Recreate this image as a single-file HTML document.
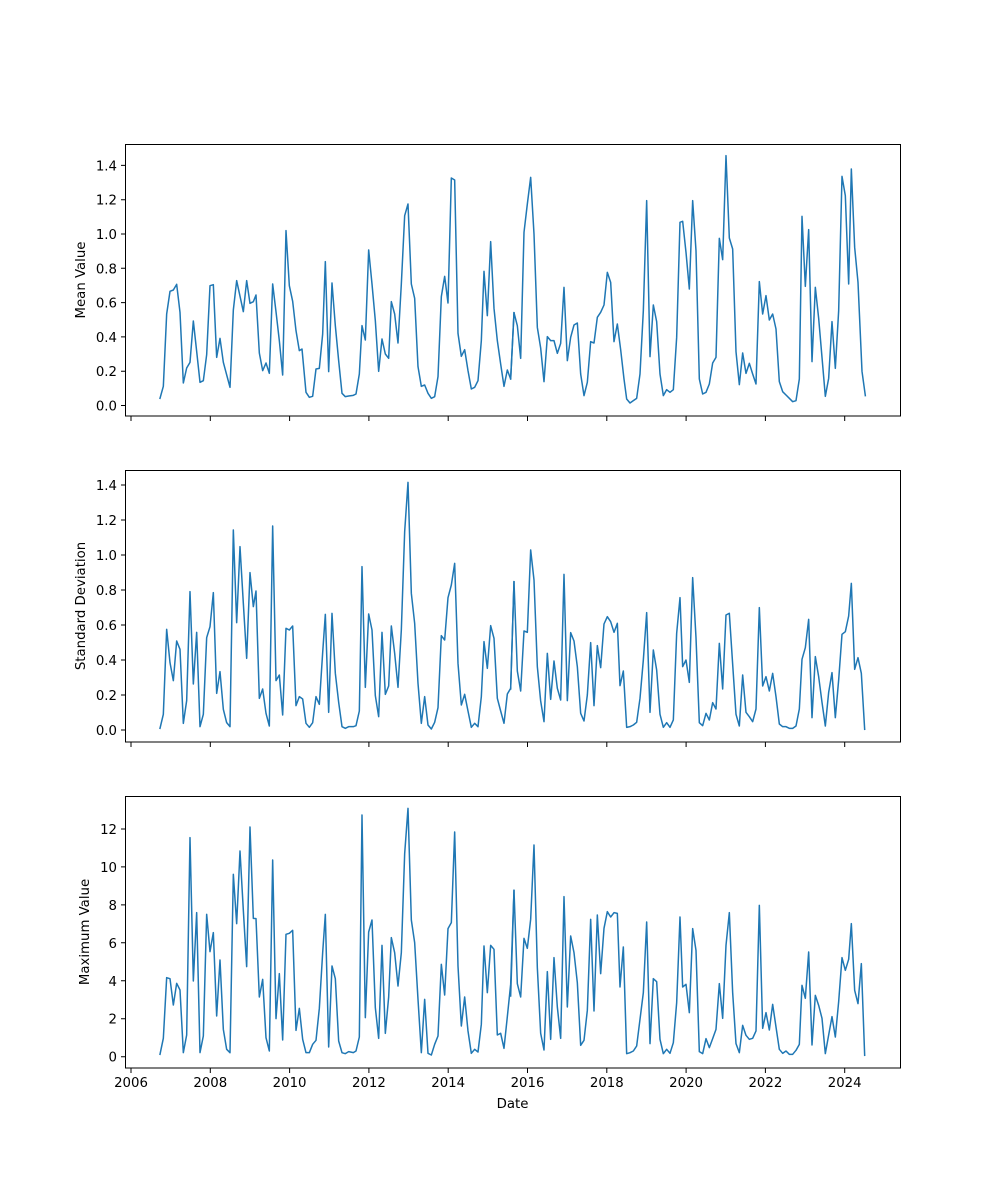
<!DOCTYPE html>
<html><head><meta charset="utf-8"><style>body{margin:0;background:#fff}svg{display:block}text{font-family:"DejaVu Sans","Liberation Sans",sans-serif;font-size:13.3px;fill:#000}</style></head><body>
<svg width="1000" height="1200" xmlns="http://www.w3.org/2000/svg">
<rect width="1000" height="1200" fill="#fff"/>
<g fill="none" stroke="#1f77b4" stroke-width="4.5" stroke-linejoin="round" stroke-linecap="square">
<g transform="translate(125,144) scale(0.33333)">
<polyline points="105,763 115,727 125,510 135,442 145,438 155,421 165,505 175,717 185,672 195,655 205,531 215,622 225,715 235,710 245,632 255,425 265,422 275,640 285,583 295,655 315,730 325,498 335,410 355,503 365,410 375,478 385,473 393,453 403,627 413,680 423,657 433,688 443,420 453,503 463,590 473,693 483,260 493,425 503,472 513,560 523,620 531,615 543,745 553,760 563,757 573,675 583,673 593,570 601,353 611,683 621,417 631,545 641,650 651,748 661,758 671,756 685,754 693,750 703,690 711,545 721,588 731,318 741,420 751,530 761,682 771,585 781,630 791,643 799,473 809,510 819,597 829,420 839,215 849,180 859,420 869,463 879,668 889,727 899,723 909,748 919,763 929,758 939,698 949,458 959,397 969,477 979,102 989,108 999,568 1009,637 1019,617 1029,680 1039,735 1049,730 1059,710 1069,590 1077,382 1087,515 1097,293 1107,493 1117,590 1127,660 1137,727 1147,678 1157,705 1167,506"/>
</g>
<g transform="translate(510,144) scale(0.33333)">
<polyline points="2,705 12,506 22,545 32,643 42,265 52,180 62,100 72,270 82,550 92,612 102,713 112,578 122,590 132,590 142,628 152,598 162,430 172,650 182,580 192,543 202,537 212,690 222,755 232,715 242,593 252,597 262,520 272,505 282,483 292,385 302,415 312,593 322,540 332,617 342,705 350,765 360,777 370,770 380,763 390,690 400,500 410,170 420,638 430,483 440,533 450,690 460,755 470,737 480,745 490,737 500,580 510,235 518,232 528,325 538,435 548,170 558,320 568,705 578,750 588,745 598,720 608,657 618,640 628,283 638,347 648,35 658,282 668,315 678,623 688,722 698,627 708,688 718,658 728,690 738,720 748,413 758,510 768,455 778,528 788,510 798,555 808,713 818,743 828,753 838,763 848,773 858,770 868,705 876,217 886,427 896,257 906,653 916,430 926,523 936,640 946,757 956,703 966,533 976,673 986,500 996,97 1006,155 1016,420 1024,75 1034,310 1044,415 1056,682 1066,755"/>
</g>
<g transform="translate(125,470) scale(0.33333)">
<polyline points="105,775 115,733 125,478 135,578 145,632 155,513 165,538 175,760 185,692 195,365 205,642 215,487 225,770 235,733 245,503 255,470 265,368 275,670 285,605 295,718 305,758 315,770 325,180 335,458 345,230 355,400 365,565 375,308 385,410 393,363 403,685 413,657 423,730 433,768 443,168 453,632 463,615 473,735 483,475 493,480 503,468 513,707 523,680 533,687 543,760 553,772 563,758 573,680 583,703 593,548 601,433 611,727 621,430 631,610 641,697 651,770 661,775 671,770 685,770 693,767 703,723 711,290 721,652 731,432 741,480 751,677 761,740 771,487 781,673 791,648 799,468 809,550 819,652 829,480 839,185 849,37 859,370 869,460 879,640 889,760 899,680 909,765 919,777 929,757 939,713 949,497 959,510 969,383 979,345 989,280 999,580 1009,705 1019,673 1029,723 1039,772 1049,760 1059,770 1069,680 1077,515 1087,595 1097,467 1107,505 1117,685 1127,723 1137,760 1147,672 1157,655 1167,335"/>
</g>
<g transform="translate(510,470) scale(0.33333)">
<polyline points="2,657 12,335 22,603 32,663 42,483 52,487 62,240 72,330 82,590 92,693 102,755 112,550 122,688 132,573 142,655 152,690 162,313 172,692 182,488 192,513 202,590 212,730 222,753 232,675 242,518 252,707 262,527 272,593 282,462 292,440 302,455 312,487 322,460 330,647 340,603 350,772 360,770 370,765 380,757 390,685 400,570 410,428 420,727 430,540 440,600 450,733 460,772 470,758 480,772 490,750 500,490 510,383 518,590 528,570 538,637 548,323 558,503 568,758 578,767 588,730 598,750 608,698 618,717 628,520 638,657 648,435 658,430 668,583 678,733 688,768 698,615 708,727 718,740 728,755 738,717 748,413 758,648 768,620 778,663 788,610 798,680 808,762 818,770 828,770 838,775 848,775 858,768 868,717 876,568 886,533 896,448 906,743 916,560 926,620 936,697 946,768 956,667 966,608 976,743 986,630 996,493 1006,485 1016,438 1024,340 1034,598 1044,563 1054,610 1064,778"/>
</g>
<g transform="translate(125,796) scale(0.33333)">
<polyline points="105,775 115,727 125,545 135,548 145,627 155,562 165,582 175,770 185,717 195,125 205,555 215,350 225,770 235,720 245,355 255,467 265,410 275,660 285,492 295,700 305,760 315,770 325,235 335,383 345,165 355,343 365,512 375,93 385,367 393,368 403,603 413,550 423,725 433,765 443,192 453,668 463,533 473,732 483,415 493,412 503,403 513,703 523,637 533,730 543,770 553,770 563,745 573,733 583,637 593,470 601,355 611,753 621,510 631,548 641,735 651,770 661,773 671,767 685,770 693,765 703,723 711,57 721,665 731,408 741,372 751,635 761,727 771,448 781,712 791,603 799,425 809,470 819,570 829,470 839,173 849,37 859,372 869,440 879,610 889,770 899,610 909,772 919,777 929,745 939,720 949,505 959,597 969,398 979,380 989,108 999,510 1009,690 1019,603 1029,705 1039,772 1049,760 1059,768 1069,685 1077,450 1087,590 1097,448 1107,460 1117,717 1127,712 1137,757 1147,662 1157,565 1167,283"/>
</g>
<g transform="translate(510,796) scale(0.33333)">
<polyline points="2,600 12,283 22,563 32,603 42,427 52,457 62,370 72,147 82,515 92,712 102,762 112,527 122,730 132,485 142,633 152,727 162,302 172,633 182,420 192,470 202,560 212,748 222,733 232,643 242,370 252,645 262,357 272,533 282,397 292,347 302,363 312,350 322,352 330,573 340,453 350,773 360,770 370,765 380,750 390,670 400,590 410,378 420,743 430,548 440,557 450,730 460,773 470,760 480,772 490,740 500,620 510,363 518,573 528,565 538,650 548,398 558,463 568,767 578,773 588,728 598,755 608,728 618,700 628,563 638,667 648,448 658,350 668,590 678,743 688,770 698,688 708,718 718,730 728,727 738,705 748,328 758,697 768,650 778,702 788,625 798,693 808,760 818,772 828,765 838,775 848,775 858,763 868,745 876,568 886,607 896,468 906,747 916,598 926,628 936,667 946,773 956,717 966,662 976,723 986,617 996,485 1006,523 1016,490 1024,383 1034,583 1044,623 1054,503 1064,778"/>
</g>
</g>
<g fill="none" stroke="#000" stroke-width="1">
<rect x="125.5" y="144.5" width="775" height="271.5"/>
<rect x="125.5" y="470.5" width="775" height="271.5"/>
<rect x="125.5" y="796.5" width="775" height="271.5"/>
<path d="M121,405.5h4M121,371.2h4M121,336.9h4M121,302.6h4M121,268.3h4M121,234h4M121,199.7h4M121,165.4h4"/>
<path d="M121,730h4M121,695h4M121,660h4M121,625h4M121,590h4M121,555h4M121,520h4M121,485h4"/>
<path d="M121,1056.7h4M121,1018.7h4M121,980.8h4M121,942.8h4M121,904.9h4M121,866.9h4M121,829h4"/>
<path d="M131,416v5M210.3,416v5M289.6,416v5M368.9,416v5M448.2,416v5M527.5,416v5M606.8,416v5M686.1,416v5M765.4,416v5M844.7,416v5"/>
<path d="M131,742v5M210.3,742v5M289.6,742v5M368.9,742v5M448.2,742v5M527.5,742v5M606.8,742v5M686.1,742v5M765.4,742v5M844.7,742v5"/>
<path d="M131,1068v5M210.3,1068v5M289.6,1068v5M368.9,1068v5M448.2,1068v5M527.5,1068v5M606.8,1068v5M686.1,1068v5M765.4,1068v5M844.7,1068v5"/>
</g>
<g text-anchor="end">
<text x="117" y="410.5">0.0</text><text x="117" y="376.2">0.2</text><text x="117" y="341.9">0.4</text><text x="117" y="307.6">0.6</text><text x="117" y="273.3">0.8</text><text x="117" y="239">1.0</text><text x="117" y="204.7">1.2</text><text x="117" y="170.4">1.4</text>
<text x="117" y="735">0.0</text><text x="117" y="700">0.2</text><text x="117" y="665">0.4</text><text x="117" y="630">0.6</text><text x="117" y="595">0.8</text><text x="117" y="560">1.0</text><text x="117" y="525">1.2</text><text x="117" y="490">1.4</text>
<text x="117" y="1061.7">0</text><text x="117" y="1023.7">2</text><text x="117" y="985.8">4</text><text x="117" y="947.8">6</text><text x="117" y="909.9">8</text><text x="117" y="871.9">10</text><text x="117" y="834">12</text>
</g>
<g text-anchor="middle">
<text x="131" y="1087">2006</text><text x="210.3" y="1087">2008</text><text x="289.6" y="1087">2010</text><text x="368.9" y="1087">2012</text><text x="448.2" y="1087">2014</text><text x="527.5" y="1087">2016</text><text x="606.8" y="1087">2018</text><text x="686.1" y="1087">2020</text><text x="765.4" y="1087">2022</text><text x="844.7" y="1087">2024</text>
<text x="512.5" y="1108">Date</text>
<text transform="translate(85,280) rotate(-90)">Mean Value</text>
<text transform="translate(85,606) rotate(-90)">Standard Deviation</text>
<text transform="translate(89,932) rotate(-90)">Maximum Value</text>
</g>
</svg>
</body></html>
